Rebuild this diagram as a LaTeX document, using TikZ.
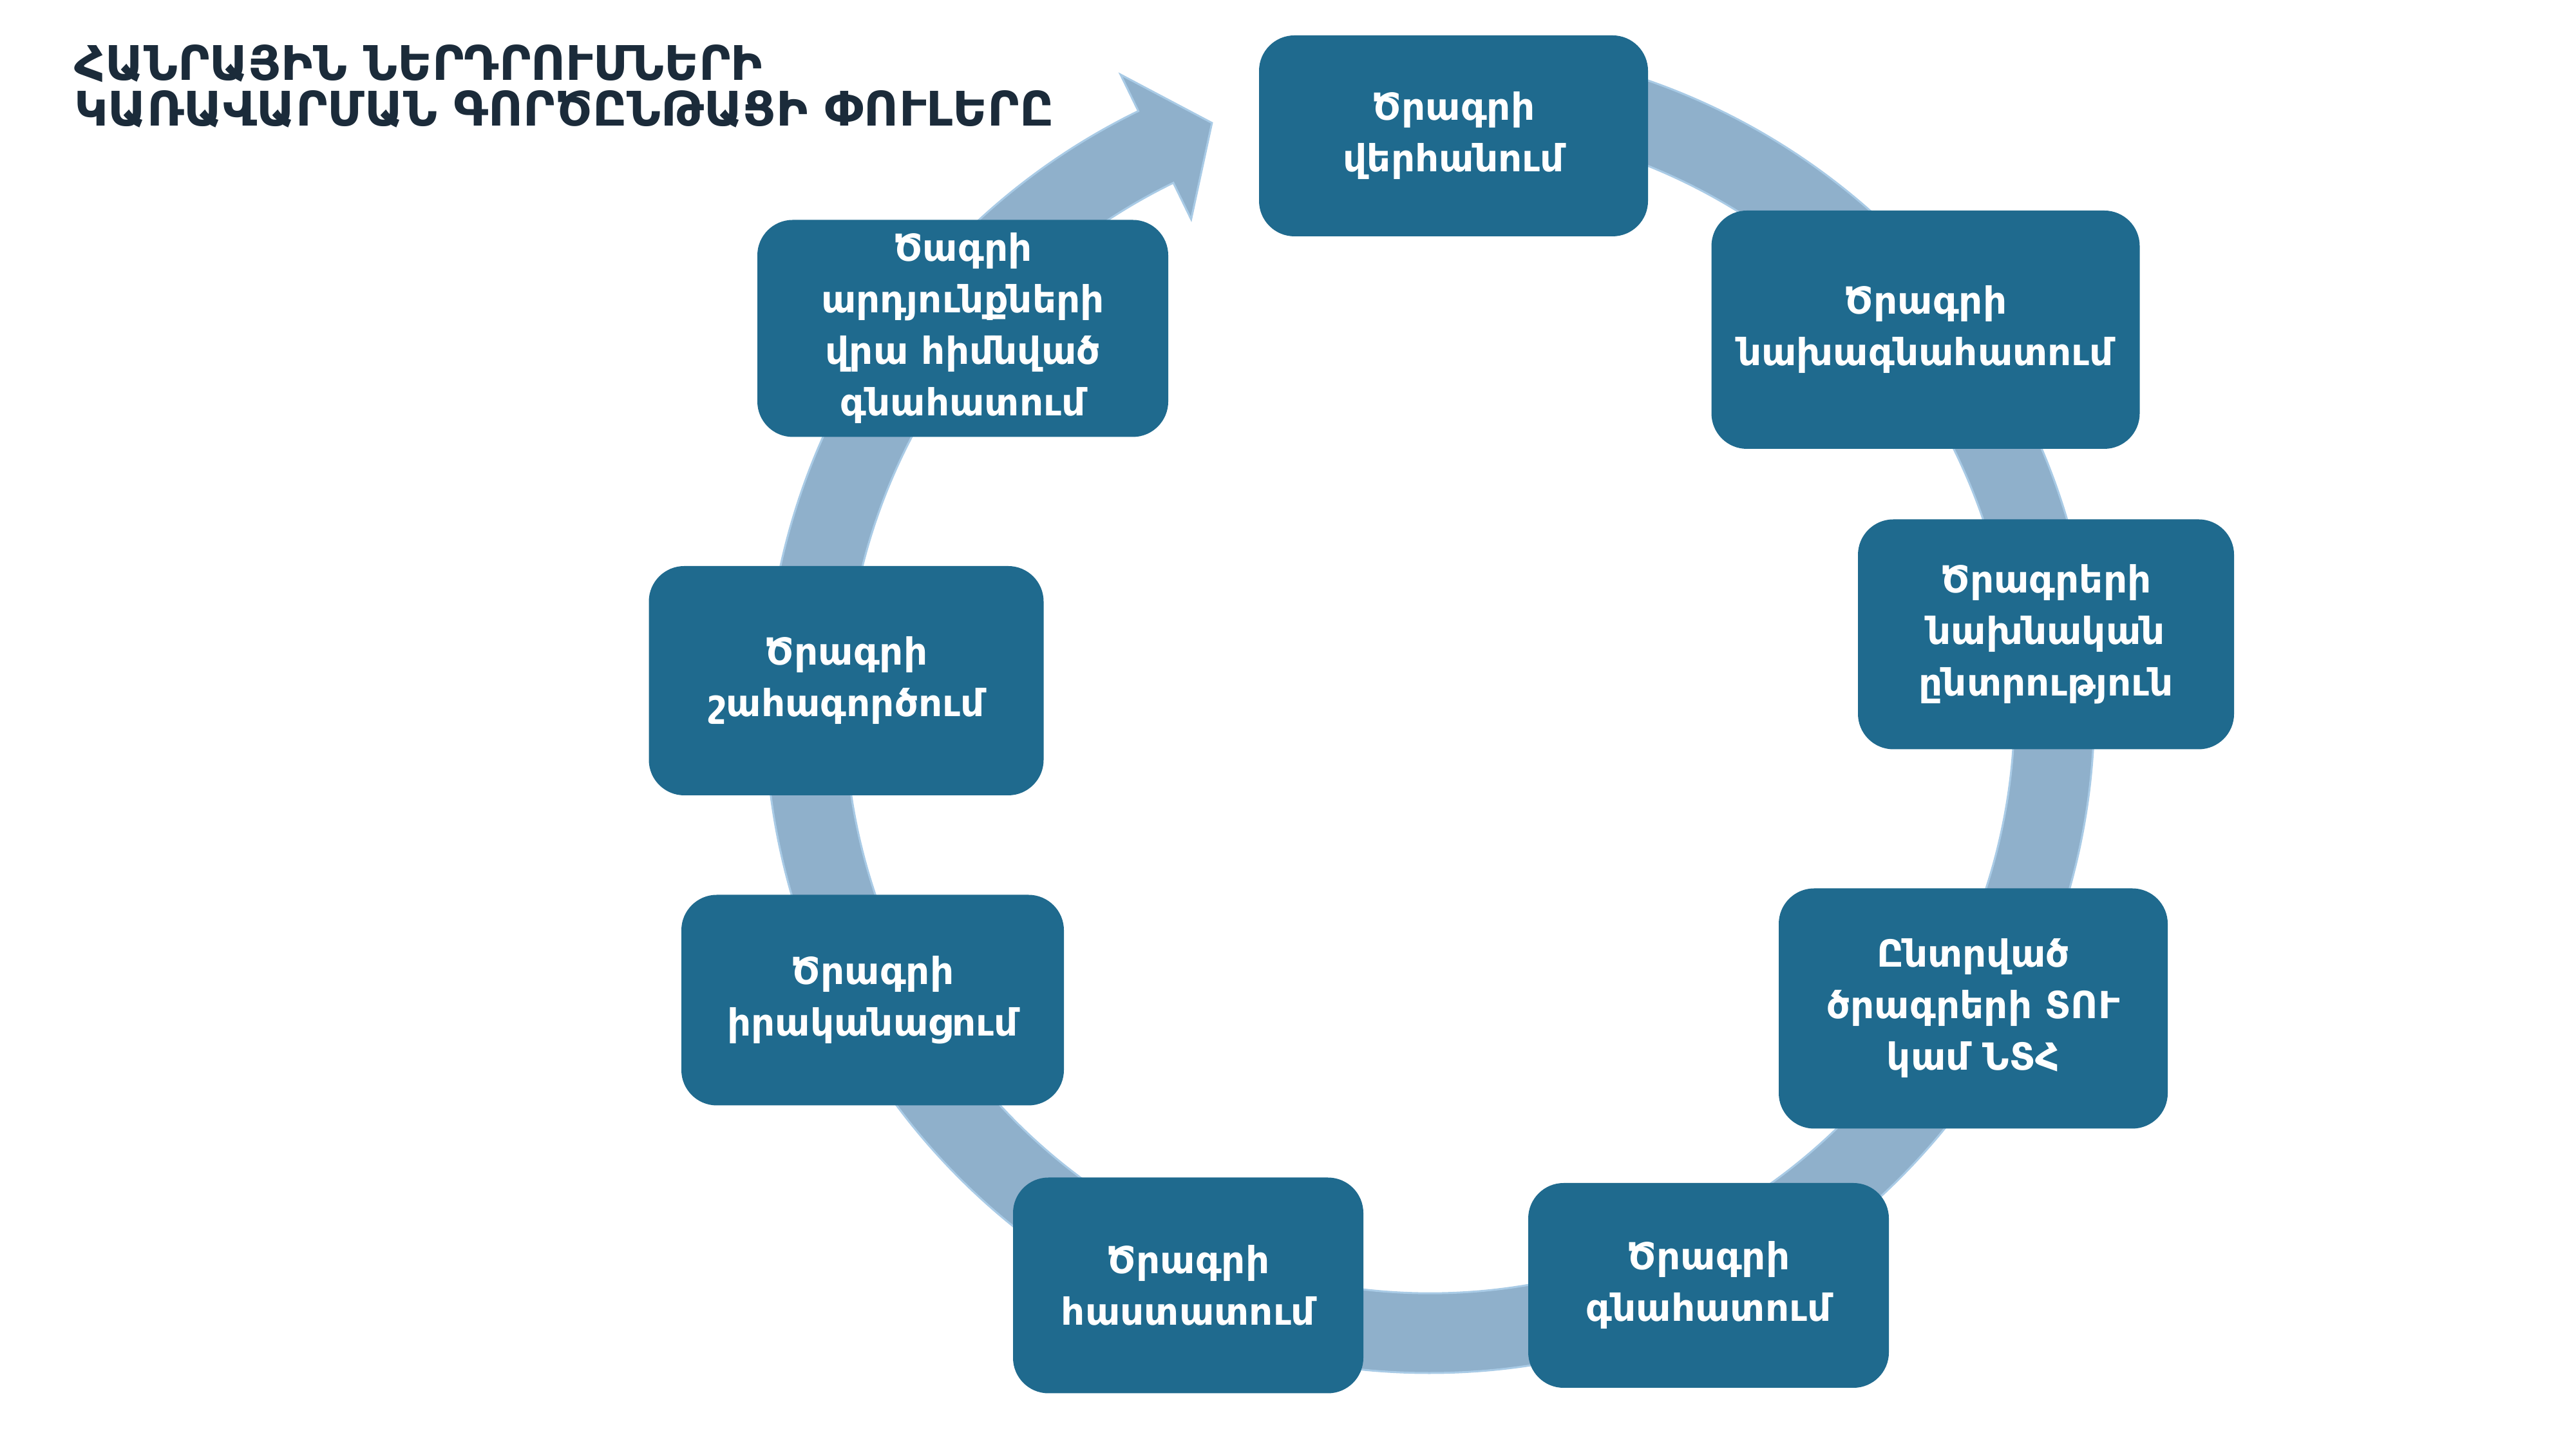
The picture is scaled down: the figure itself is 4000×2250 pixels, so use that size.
\documentclass[tikz,border=0pt]{standalone}
\usepackage{fontspec}
\setmainfont{DejaVu Sans}
\usetikzlibrary{calc}
\definecolor{boxblue}{HTML}{1F6A8E}
\definecolor{ringblue}{HTML}{8FB0CB}
\definecolor{ringedge}{HTML}{A9CBE6}
\definecolor{titlecol}{HTML}{1B2B3A}
\begin{document}
\begin{tikzpicture}[x=1pt,y=1pt,
  phase/.style={fill=boxblue, rounded corners=55pt, text=white, align=center, inner sep=0pt,
    font=\bfseries\fontsize{58}{80}\selectfont},
]
\useasboundingbox (0,0) rectangle (4000,2250);
\fill[white] (0,0) rectangle (4000,2250);
\coordinate (C) at (2220,1150);
\filldraw[fill=ringblue, draw=ringedge, line width=3pt]
  ($(C)+(92:1032pt)$) arc[start angle=92, end angle=-244, radius=1032pt]
  -- ($(C)+(-244:1095pt)$) -- ($(C)+(-249.6:970pt)$) -- ($(C)+(-244:845pt)$)
  -- ($(C)+(-244:908pt)$) arc[start angle=-244, end angle=92, radius=908pt] -- cycle;

\node[phase, minimum width=604pt, minimum height=312pt] (p1) at (2257,2039) {Ծրագրի\\վերհանում};
\node[phase, minimum width=665pt, minimum height=370pt] (p2) at (2990,1738) {Ծրագրի\\նախագնահատում};
\node[phase, minimum width=584pt, minimum height=357pt] (p3) at (3177,1265) {Ծրագրերի\\նախնական\\ընտրություն};
\node[phase, minimum width=604pt, minimum height=373pt] (p4) at (3064,684) {Ընտրված\\ծրագրերի ՏՈՒ\\կամ ՆՏՀ};
\node[phase, minimum width=560pt, minimum height=318pt] (p5) at (2653,254) {Ծրագրի\\գնահատում};
\node[phase, minimum width=544pt, minimum height=335pt] (p6) at (1845,254) {Ծրագրի\\հաստատում};
\node[phase, minimum width=594pt, minimum height=327pt] (p7) at (1355,697) {Ծրագրի\\իրականացում};
\node[phase, minimum width=613pt, minimum height=356pt] (p8) at (1314,1193) {Ծրագրի\\շահագործում};
\node[phase, minimum width=638pt, minimum height=337pt] (p9) at (1495,1740) {Ծագրի\\արդյունքների\\վրա հիմնված\\գնահատում};

\node[anchor=north west, align=left, inner sep=0pt, text=titlecol,
  font=\bfseries\fontsize{74}{71}\selectfont] (title) at (115,2181)
  {ՀԱՆՐԱՅԻՆ ՆԵՐԴՐՈՒՄՆԵՐԻ\\ԿԱՌԱՎԱՐՄԱՆ ԳՈՐԾԸՆԹԱՑԻ ՓՈՒԼԵՐԸ};
\end{tikzpicture}
\end{document}
